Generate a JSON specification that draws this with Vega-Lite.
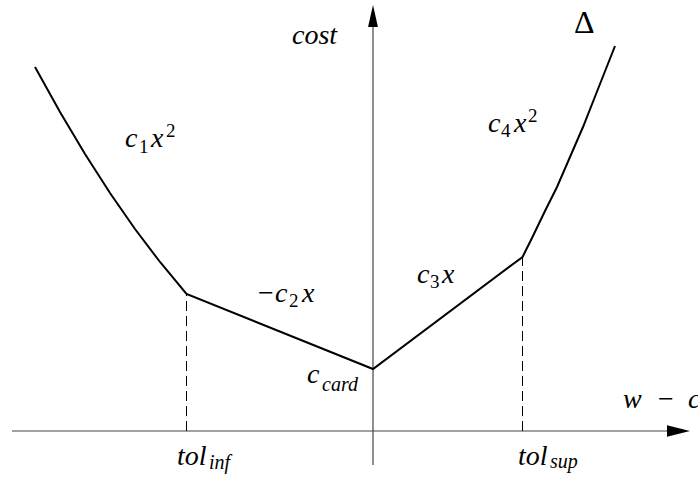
{
  "$schema": "https://vega.github.io/schema/vega-lite/v6.json",
  "width": 698,
  "height": 481,
  "padding": 0,
  "autosize": {"type": "fit", "contains": "padding"},
  "background": "white",
  "config": {"view": {"stroke": null}},
  "datasets": {
    "cost": [
      {"x": -338, "y": 364},
      {"x": -313, "y": 319},
      {"x": -288, "y": 277},
      {"x": -263, "y": 238},
      {"x": -238, "y": 202},
      {"x": -213, "y": 169},
      {"x": -186.5, "y": 137},
      {"x": 0, "y": 62},
      {"x": 149.5, "y": 174},
      {"x": 159, "y": 193},
      {"x": 172, "y": 220},
      {"x": 184, "y": 244},
      {"x": 197, "y": 274},
      {"x": 210, "y": 304},
      {"x": 225, "y": 342},
      {"x": 242, "y": 385}
    ],
    "tolerances": [
      {"x": -186.5, "y": 0, "y2": 137},
      {"x": 149.5, "y": 0, "y2": 174}
    ],
    "axes": [
      {"x": -361, "x2": 294, "y": 0, "y2": 0},
      {"x": 0, "x2": 0, "y": -34, "y2": 404}
    ],
    "arrows": [
      {"dir": "right", "x": 305.5, "y": 0},
      {"dir": "up", "x": 0, "y": 415}
    ],
    "labels": [
      {"kind": "main", "text": "cost", "x": -81, "y": 387},
      {"kind": "main", "text": "c", "x": -248, "y": 284},
      {"kind": "main", "text": "x", "x": -222, "y": 284},
      {"kind": "main", "text": "c", "x": -98, "y": 129},
      {"kind": "main", "text": "x", "x": -71, "y": 129},
      {"kind": "main", "text": "c", "x": 44, "y": 148},
      {"kind": "main", "text": "x", "x": 69, "y": 148},
      {"kind": "main", "text": "c", "x": 115, "y": 299},
      {"kind": "main", "text": "x", "x": 141, "y": 299},
      {"kind": "main", "text": "c", "x": -66, "y": 48},
      {"kind": "main", "text": "tol", "x": -196, "y": -34},
      {"kind": "main", "text": "tol", "x": 145, "y": -34},
      {"kind": "main", "text": "w", "x": 250, "y": 23},
      {"kind": "main", "text": "c", "x": 315, "y": 23},
      {"kind": "op", "text": "−", "x": -115, "y": 129},
      {"kind": "op", "text": "−", "x": 285, "y": 23},
      {"kind": "delta", "text": "Δ", "x": 201, "y": 398},
      {"kind": "digit", "text": "1", "x": -234, "y": 278},
      {"kind": "digit", "text": "2", "x": -207, "y": 294},
      {"kind": "digit", "text": "2", "x": -84, "y": 124},
      {"kind": "digit", "text": "3", "x": 57, "y": 143},
      {"kind": "digit", "text": "4", "x": 128, "y": 294},
      {"kind": "digit", "text": "2", "x": 155, "y": 309},
      {"kind": "sub", "text": "card", "x": -51, "y": 40},
      {"kind": "sub", "text": "inf", "x": -164, "y": -38},
      {"kind": "sub", "text": "sup", "x": 177, "y": -37}
    ]
  },
  "layer": [
    {
      "data": {"name": "axes"},
      "mark": {"type": "rule", "stroke": "#444444", "strokeWidth": 1.2},
      "encoding": {
        "x": {"field": "x", "type": "quantitative", "scale": {"domain": [-373, 325], "nice": false, "zero": false}, "axis": null},
        "x2": {"field": "x2"},
        "y": {"field": "y", "type": "quantitative", "scale": {"domain": [-50, 431], "nice": false, "zero": false}, "axis": null},
        "y2": {"field": "y2"}
      }
    },
    {
      "data": {"name": "arrows"},
      "transform": [{"filter": "datum.dir === 'right'"}],
      "mark": {"type": "point", "filled": true, "color": "black", "opacity": 1, "shape": "M1,0L-1,-0.5L-1,0.5Z", "size": 529},
      "encoding": {
        "x": {"field": "x", "type": "quantitative"},
        "y": {"field": "y", "type": "quantitative"}
      }
    },
    {
      "data": {"name": "arrows"},
      "transform": [{"filter": "datum.dir === 'up'"}],
      "mark": {"type": "point", "filled": true, "color": "black", "opacity": 1, "shape": "M0,-1L0.45,1L-0.45,1Z", "size": 484},
      "encoding": {
        "x": {"field": "x", "type": "quantitative"},
        "y": {"field": "y", "type": "quantitative"}
      }
    },
    {
      "data": {"name": "tolerances"},
      "mark": {"type": "rule", "stroke": "black", "strokeWidth": 1, "strokeDash": [10, 5]},
      "encoding": {
        "x": {"field": "x", "type": "quantitative"},
        "y": {"field": "y", "type": "quantitative"},
        "y2": {"field": "y2"}
      }
    },
    {
      "data": {"name": "cost"},
      "mark": {"type": "line", "stroke": "black", "strokeWidth": 2, "strokeJoin": "miter"},
      "encoding": {
        "x": {"field": "x", "type": "quantitative"},
        "y": {"field": "y", "type": "quantitative"}
      }
    },
    {
      "data": {"name": "labels"},
      "transform": [{"filter": "datum.kind === 'main'"}],
      "mark": {"type": "text", "font": "Liberation Serif", "fontStyle": "italic", "fontSize": 28, "align": "left", "baseline": "alphabetic", "color": "black", "clip": true},
      "encoding": {
        "x": {"field": "x", "type": "quantitative"},
        "y": {"field": "y", "type": "quantitative"},
        "text": {"field": "text"}
      }
    },
    {
      "data": {"name": "labels"},
      "transform": [{"filter": "datum.kind === 'op'"}],
      "mark": {"type": "text", "font": "Liberation Serif", "fontSize": 28, "align": "left", "baseline": "alphabetic", "color": "black"},
      "encoding": {
        "x": {"field": "x", "type": "quantitative"},
        "y": {"field": "y", "type": "quantitative"},
        "text": {"field": "text"}
      }
    },
    {
      "data": {"name": "labels"},
      "transform": [{"filter": "datum.kind === 'delta'"}],
      "mark": {"type": "text", "font": "Liberation Serif", "fontSize": 32, "align": "left", "baseline": "alphabetic", "color": "black"},
      "encoding": {
        "x": {"field": "x", "type": "quantitative"},
        "y": {"field": "y", "type": "quantitative"},
        "text": {"field": "text"}
      }
    },
    {
      "data": {"name": "labels"},
      "transform": [{"filter": "datum.kind === 'digit'"}],
      "mark": {"type": "text", "font": "Liberation Serif", "fontSize": 19, "align": "left", "baseline": "alphabetic", "color": "black"},
      "encoding": {
        "x": {"field": "x", "type": "quantitative"},
        "y": {"field": "y", "type": "quantitative"},
        "text": {"field": "text"}
      }
    },
    {
      "data": {"name": "labels"},
      "transform": [{"filter": "datum.kind === 'sub'"}],
      "mark": {"type": "text", "font": "Liberation Serif", "fontStyle": "italic", "fontSize": 20, "align": "left", "baseline": "alphabetic", "color": "black"},
      "encoding": {
        "x": {"field": "x", "type": "quantitative"},
        "y": {"field": "y", "type": "quantitative"},
        "text": {"field": "text"}
      }
    }
  ]
}
